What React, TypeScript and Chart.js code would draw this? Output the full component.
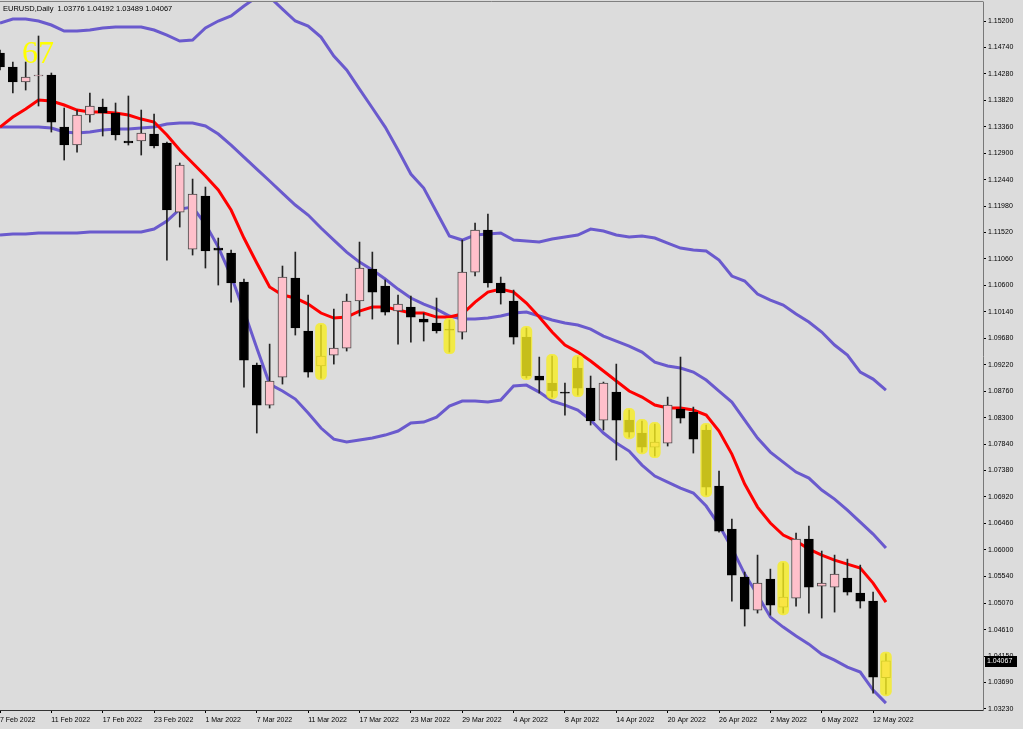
import React, { useEffect, useRef } from "react";
import { Chart, registerables } from "chart.js";

Chart.register(...registerables);

// ---- Data (EURUSD, Daily) ----
const dates = [
  "7 Feb 2022", "8 Feb 2022", "9 Feb 2022", "10 Feb 2022", "11 Feb 2022",
  "14 Feb 2022", "15 Feb 2022", "16 Feb 2022", "17 Feb 2022", "18 Feb 2022",
  "21 Feb 2022", "22 Feb 2022", "23 Feb 2022", "24 Feb 2022", "25 Feb 2022",
  "28 Feb 2022", "1 Mar 2022", "2 Mar 2022", "3 Mar 2022", "4 Mar 2022",
  "7 Mar 2022", "8 Mar 2022", "9 Mar 2022", "10 Mar 2022", "11 Mar 2022",
  "14 Mar 2022", "15 Mar 2022", "16 Mar 2022", "17 Mar 2022", "18 Mar 2022",
  "21 Mar 2022", "22 Mar 2022", "23 Mar 2022", "24 Mar 2022", "25 Mar 2022",
  "28 Mar 2022", "29 Mar 2022", "30 Mar 2022", "31 Mar 2022", "1 Apr 2022",
  "4 Apr 2022", "5 Apr 2022", "6 Apr 2022", "7 Apr 2022", "8 Apr 2022",
  "11 Apr 2022", "12 Apr 2022", "13 Apr 2022", "14 Apr 2022", "15 Apr 2022",
  "18 Apr 2022", "19 Apr 2022", "20 Apr 2022", "21 Apr 2022", "22 Apr 2022",
  "25 Apr 2022", "26 Apr 2022", "27 Apr 2022", "28 Apr 2022", "29 Apr 2022",
  "2 May 2022", "3 May 2022", "4 May 2022", "5 May 2022", "6 May 2022",
  "9 May 2022", "10 May 2022", "11 May 2022", "12 May 2022", "13 May 2022",
];

const open = [
  1.14643, 1.14399, 1.14138, 1.14243, 1.1426, 1.13355, 1.13042, 1.13564, 1.13703, 1.13599,
  1.13112, 1.13112, 1.13233, 1.13077, 1.11876, 1.11232, 1.12155, 1.1125, 1.11163, 1.10658,
  1.09214, 1.08518, 1.09005, 1.10728, 1.09806, 1.09197, 1.09388, 1.0951, 1.10328, 1.10884,
  1.10589, 1.10154, 1.10223, 1.10014, 1.09945, 1.0984, 1.09788, 1.10832, 1.11563, 1.10641,
  1.10328, 1.09701, 1.09023, 1.08901, 1.08744, 1.09162, 1.08814, 1.08257, 1.08744, 1.08257,
  1.08031, 1.07787, 1.07857, 1.08448, 1.08396, 1.08083, 1.07109, 1.0636, 1.05525, 1.04951,
  1.0549, 1.05003, 1.0516, 1.06186, 1.05369, 1.05351, 1.05508, 1.05247, 1.05108, 1.03776,
];
const high = [
  1.14695, 1.14486, 1.14486, 1.14939, 1.14295, 1.13686, 1.13651, 1.13947, 1.13842, 1.13773,
  1.13895, 1.13651, 1.13581, 1.13094, 1.12729, 1.1245, 1.12311, 1.11424, 1.11215, 1.1071,
  1.09249, 1.09579, 1.10937, 1.1118, 1.10432, 1.0991, 1.10188, 1.10449, 1.11354, 1.1118,
  1.10693, 1.10432, 1.10415, 1.10119, 1.1038, 1.09997, 1.11389, 1.11685, 1.11841, 1.10745,
  1.10519, 1.09858, 1.09353, 1.09371, 1.08901, 1.09353, 1.09023, 1.08918, 1.09231, 1.08431,
  1.0824, 1.08187, 1.08657, 1.09353, 1.08483, 1.0817, 1.0737, 1.06534, 1.05612, 1.05908,
  1.05664, 1.05769, 1.06291, 1.06413, 1.05978, 1.05908, 1.05838, 1.05734, 1.05264, 1.04192,
];
const low = [
  1.14347, 1.13947, 1.13999, 1.13721, 1.13268, 1.12781, 1.1292, 1.13442, 1.13199, 1.13129,
  1.13042, 1.12868, 1.1299, 1.11041, 1.11615, 1.11128, 1.10902, 1.10606, 1.1031, 1.08831,
  1.08031, 1.08466, 1.08883, 1.09736, 1.09005, 1.08988, 1.09231, 1.09458, 1.10067, 1.10014,
  1.10084, 1.09579, 1.09614, 1.09632, 1.09771, 1.0944, 1.09666, 1.10763, 1.10571, 1.10275,
  1.09579, 1.08988, 1.08727, 1.08657, 1.08344, 1.08692, 1.0817, 1.08083, 1.07561, 1.07961,
  1.077, 1.07631, 1.07805, 1.08205, 1.07683, 1.06952, 1.06308, 1.05108, 1.04673, 1.04899,
  1.04864, 1.04899, 1.05021, 1.04899, 1.04812, 1.04916, 1.05212, 1.04986, 1.03507, 1.03489,
];
const close = [
  1.14399, 1.14138, 1.14225, 1.1426, 1.13442, 1.13042, 1.13564, 1.13721, 1.13599, 1.13216,
  1.13077, 1.13251, 1.13025, 1.11911, 1.12694, 1.12189, 1.11198, 1.11215, 1.10641, 1.09301,
  1.08518, 1.08936, 1.10745, 1.09858, 1.09092, 1.09371, 1.0951, 1.10328, 1.10902, 1.10484,
  1.10136, 1.10275, 1.10049, 1.09962, 1.09806, 1.09823, 1.10832, 1.11563, 1.10641, 1.10467,
  1.09701, 1.09023, 1.08953, 1.08762, 1.08727, 1.08814, 1.0824, 1.08901, 1.08257, 1.08048,
  1.07787, 1.07874, 1.08518, 1.08292, 1.07926, 1.07091, 1.06326, 1.0556, 1.04968, 1.05421,
  1.05038, 1.05177, 1.06186, 1.05351, 1.05421, 1.05577, 1.05264, 1.05108, 1.03785, 1.04067,
];

// Red moving average
const maRed = [
  1.13355, 1.13529, 1.13668, 1.13825, 1.13808, 1.13738, 1.13651, 1.13616, 1.13616, 1.13599,
  1.13564, 1.13494, 1.13442, 1.13216, 1.12955, 1.12729, 1.12503, 1.12259, 1.11911, 1.11424,
  1.10989, 1.10571, 1.10432, 1.1038, 1.10275, 1.10119, 1.10032, 1.10049, 1.10154, 1.10223,
  1.10223, 1.10171, 1.10119, 1.10119, 1.10049, 1.10049, 1.10101, 1.1031, 1.10484, 1.10536,
  1.10484, 1.10293, 1.10049, 1.09788, 1.09562, 1.0944, 1.09284, 1.0911, 1.08936, 1.08762,
  1.08657, 1.08518, 1.08466, 1.08466, 1.08431, 1.08344, 1.08066, 1.07665, 1.07143, 1.06743,
  1.06465, 1.06256, 1.06152, 1.06012, 1.05908, 1.05821, 1.05751, 1.05682, 1.05421, 1.0509,
];
// Bollinger bands
const bbUpper = [
  1.15165, 1.15234, 1.15234, 1.152, 1.1513, 1.15026, 1.15026, 1.15043, 1.15078, 1.15095,
  1.15095, 1.15095, 1.15043, 1.14956, 1.14852, 1.14869, 1.15078, 1.152, 1.15287, 1.15461,
  1.15617, 1.15617, 1.15408, 1.152, 1.15113, 1.14921, 1.14591, 1.14347, 1.14016, 1.13686,
  1.13355, 1.12955, 1.12537, 1.12294, 1.11876, 1.11459, 1.11389, 1.11476, 1.11493, 1.11511,
  1.11389, 1.11372, 1.11354, 1.11406, 1.11441, 1.11476, 1.1158, 1.11546, 1.11476, 1.11441,
  1.11459, 1.11424, 1.11337, 1.1125, 1.11215, 1.11198, 1.11041, 1.10763, 1.10676, 1.10449,
  1.10345, 1.10258, 1.10101, 1.09962, 1.09788, 1.09562, 1.09388, 1.09092, 1.0897, 1.08779,
];
const bbMiddle = [
  1.13355, 1.13355, 1.13355, 1.13355, 1.13338, 1.13268, 1.13251, 1.13268, 1.13303, 1.1332,
  1.1332, 1.13338, 1.13355, 1.13407, 1.13425, 1.13425, 1.13373, 1.13233, 1.13042, 1.12833,
  1.12624, 1.12416, 1.12207, 1.11998, 1.11824, 1.11598, 1.11389, 1.1118, 1.11006, 1.10867,
  1.1071, 1.10536, 1.1038, 1.10275, 1.10188, 1.10067, 1.10014, 1.10014, 1.10032, 1.10067,
  1.10119, 1.10136, 1.10067, 1.09997, 1.09945, 1.0991, 1.0984, 1.09719, 1.09632, 1.09545,
  1.0944, 1.09266, 1.09197, 1.09162, 1.09092, 1.08953, 1.08762, 1.0857, 1.08257, 1.07944,
  1.077, 1.07526, 1.07352, 1.07248, 1.07039, 1.06882, 1.06691, 1.06482, 1.06273, 1.0603,
];
const bbLower = [
  1.11476, 1.11493, 1.11493, 1.11511, 1.11511, 1.11511, 1.11511, 1.11528, 1.11528, 1.11528,
  1.11528, 1.11528, 1.1158, 1.1172, 1.11928, 1.11963, 1.11667, 1.11267, 1.10763, 1.10154,
  1.0951, 1.08883, 1.08762, 1.08622, 1.08379, 1.08118, 1.07926, 1.07874, 1.07909, 1.07944,
  1.07996, 1.08066, 1.08205, 1.08222, 1.08309, 1.08501, 1.08588, 1.08588, 1.0857, 1.08605,
  1.08849, 1.08866, 1.08744, 1.08588, 1.08518, 1.08431, 1.08257, 1.08031, 1.07857, 1.07718,
  1.07474, 1.07283, 1.07178, 1.07074, 1.06987, 1.06761, 1.0643, 1.0603, 1.05577, 1.05212,
  1.04829, 1.04655, 1.04499, 1.04359, 1.04185, 1.04081, 1.03959, 1.03872, 1.03559, 1.03333,
];

// Candles marked with the yellow signal highlight
const highlightDates = [
  "14 Mar 2022", "28 Mar 2022", "5 Apr 2022", "7 Apr 2022", "11 Apr 2022", "15 Apr 2022",
  "18 Apr 2022", "19 Apr 2022", "25 Apr 2022", "3 May 2022", "13 May 2022",
];

const xTickLabels = [
  "7 Feb 2022", "11 Feb 2022", "17 Feb 2022", "23 Feb 2022", "1 Mar 2022", "7 Mar 2022",
  "11 Mar 2022", "17 Mar 2022", "23 Mar 2022", "29 Mar 2022", "4 Apr 2022", "8 Apr 2022",
  "14 Apr 2022", "20 Apr 2022", "26 Apr 2022", "2 May 2022", "6 May 2022", "12 May 2022",
];
const yTickValues = [
  1.152, 1.1474, 1.1428, 1.1382, 1.1336, 1.129, 1.1244, 1.1198, 1.1152, 1.1106, 1.106,
  1.1014, 1.0968, 1.0922, 1.0876, 1.083, 1.0784, 1.0738, 1.0692, 1.0646, 1.06, 1.0554,
  1.0507, 1.0461, 1.0415, 1.0369, 1.0323,
];

const symbol = "EURUSD";
const timeframe = "Daily";
const signalLabel = "67";

const priceMin = 1.032126;
const priceMax = 1.155306;
const barsVisible = 76.56;

const BG = "#dcdcdc";
const FONT = '"Liberation Sans", Arial, sans-serif';

export default function App() {
  const ref = useRef<HTMLCanvasElement | null>(null);

  useEffect(() => {
    if (!ref.current) return;
    const idx = dates.map((_, i) => i);
    const bull = idx.map((i) => close[i] >= open[i]);
    const wickData = idx.map((i) => ({ x: i, y: [low[i], high[i]] }));
    const bodyData = idx.map((i) => ({ x: i, y: [open[i], close[i]] }));
    const hlPad = 0.0003;
    const hlData = highlightDates
      .map((d) => dates.indexOf(d))
      .map((i) => ({ x: i, y: [low[i] - hlPad, high[i] + hlPad] }));
    const toLine = (arr: number[]) => arr.map((v, i) => ({ x: i, y: v }));
    const xTicks = xTickLabels.map((l) => dates.indexOf(l));
    const n = dates.length - 1;

    const underlay = {
      id: "underlay",
      beforeDatasetsDraw(chart: any) {
        const ctx = chart.ctx;
        ctx.save();
        ctx.fillStyle = "#ffff00";
        ctx.font = '32px "Liberation Serif", serif';
        ctx.textBaseline = "alphabetic";
        ctx.textAlign = "left";
        ctx.fillText(signalLabel, 22, 63);
        ctx.restore();
      },
    };

    const overlay = {
      id: "overlay",
      afterDraw(chart: any) {
        const ctx = chart.ctx;
        const ca = chart.chartArea;
        const y = chart.scales.y;
        ctx.save();
        ctx.strokeStyle = "#808080";
        ctx.lineWidth = 1;
        ctx.beginPath();
        ctx.moveTo(0, 1.5);
        ctx.lineTo(ca.right + 0.5, 1.5);
        ctx.stroke();

        ctx.fillStyle = "#000";
        ctx.font = `7.5px ${FONT}`;
        ctx.textBaseline = "middle";
        ctx.textAlign = "left";
        const ohlc = [open[n], high[n], low[n], close[n]].map((v) => v.toFixed(5)).join(" ");
        ctx.fillText(`${symbol},${timeframe}  ${ohlc}`, 3, 8.5);

        const py = Math.round(y.getPixelForValue(close[n]));
        ctx.fillStyle = "#000";
        ctx.fillRect(ca.right + 2, py - 5, 32, 11);
        ctx.fillStyle = "#fff";
        ctx.font = `7px ${FONT}`;
        ctx.fillText(close[n].toFixed(5), ca.right + 4, py + 0.5);
        ctx.restore();
      },
    };

    const chart = new Chart(ref.current, {
      type: "bar",
      data: {
        datasets: [
          {
            type: "bar",
            data: hlData as any,
            backgroundColor: "rgba(248,238,32,0.8)",
            borderWidth: 0,
            barThickness: 11,
            borderRadius: 5,
            borderSkipped: false,
            grouped: false,
            order: 1,
          },
          {
            type: "bar",
            data: bodyData as any,
            backgroundColor: bull.map((b) => (b ? "#ffc0cb" : "#000000")),
            borderColor: bull.map((b) => (b ? "#4a4a4a" : "#000000")),
            borderWidth: 1,
            borderSkipped: false,
            barThickness: 9,
            minBarLength: 1,
            grouped: false,
            order: 2,
          },
          {
            type: "bar",
            data: wickData as any,
            backgroundColor: "#222222",
            borderWidth: 0,
            barThickness: 1,
            grouped: false,
            order: 3,
          },
          {
            type: "line",
            data: toLine(maRed) as any,
            borderColor: "#ff0000",
            borderWidth: 3,
            pointRadius: 0,
            tension: 0,
            order: 4,
          },
          {
            type: "line",
            data: toLine(bbUpper) as any,
            borderColor: "#6a5acd",
            borderWidth: 3,
            pointRadius: 0,
            tension: 0,
            order: 5,
          },
          {
            type: "line",
            data: toLine(bbMiddle) as any,
            borderColor: "#6a5acd",
            borderWidth: 3,
            pointRadius: 0,
            tension: 0,
            order: 6,
          },
          {
            type: "line",
            data: toLine(bbLower) as any,
            borderColor: "#6a5acd",
            borderWidth: 3,
            pointRadius: 0,
            tension: 0,
            order: 7,
          },
        ],
      },
      options: {
        animation: false,
        responsive: false,
        maintainAspectRatio: false,
        devicePixelRatio: 1,
        events: [],
        layout: { padding: { top: 2, left: 0, right: 0, bottom: 0 } },
        plugins: { legend: { display: false }, tooltip: { enabled: false } },
        scales: {
          x: {
            type: "linear",
            position: "bottom",
            min: 0,
            max: barsVisible,
            offset: false,
            afterBuildTicks: (s: any) => {
              s.ticks = xTicks.map((v) => ({ value: v }));
            },
            afterFit: (s: any) => {
              s.height = 19;
              s.paddingLeft = 0;
              s.paddingRight = 0;
            },
            ticks: {
              autoSkip: false,
              maxRotation: 0,
              minRotation: 0,
              align: "start",
              padding: 3,
              color: "#000",
              font: { family: FONT, size: 7 },
              callback: (v: any) => {
                const k = xTicks.indexOf(Number(v));
                return k >= 0 ? xTickLabels[k] : "";
              },
            },
            grid: { display: true, drawOnChartArea: false, drawTicks: true, tickLength: 3, color: "#000", offset: false },
            border: { display: true, color: "#333", width: 1 },
          },
          y: {
            type: "linear",
            position: "right",
            min: priceMin,
            max: priceMax,
            beginAtZero: false,
            afterBuildTicks: (s: any) => {
              s.ticks = yTickValues.map((v) => ({ value: v }));
            },
            afterFit: (s: any) => {
              s.width = 40;
              s.paddingTop = 0;
              s.paddingBottom = 0;
            },
            ticks: {
              padding: 2,
              color: "#000",
              font: { family: FONT, size: 7 },
              callback: (v: any) => Number(v).toFixed(5),
            },
            grid: { display: true, drawOnChartArea: false, drawTicks: true, tickLength: 3, color: "#000" },
            border: { display: true, color: "#787878", width: 1 },
          },
        },
      } as any,
      plugins: [underlay, overlay],
    });
    return () => chart.destroy();
  }, []);

  return (
    <div style={{ position: "fixed", left: 0, top: 0, width: 1023, height: 729, background: BG }}>
      <canvas ref={ref} width={1023} height={729} style={{ display: "block", width: 1023, height: 729 }} />
    </div>
  );
}
